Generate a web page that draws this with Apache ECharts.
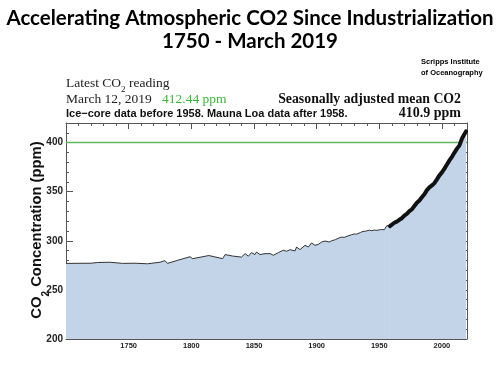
<!DOCTYPE html>
<html>
<head>
<meta charset="utf-8">
<script src="https://cdn.jsdelivr.net/npm/echarts@6/dist/echarts.min.js"></script>
<style>html,body{margin:0;padding:0;background:#fff}#c{width:500px;height:375px}</style>
</head>
<body>
<div id="c"></div>
<script>
// Ice-core record (years, ppm)
var iceYears = [1700,1720,1725,1735,1745,1755,1765,1775,1779,1781,1790,1799,1801,1814,1825,1827,1833,1840,1843,1845.5,1848,1850.8,1852,1854.8,1858,1862.8,1865.5,1869.5,1873.4,1876,1878.8,1882.8,1884,1886.8,1890.7,1893.4,1896,1898.7,1901.4,1904,1906.7,1910,1912,1915,1918,1920,1922,1925,1928,1930,1932,1935,1937,1939,1940,1942,1944,1946,1948,1950,1952,1954,1955,1956,1957,1958.5];
var iceCO2   = [277,277.2,277.9,278.2,277.0,277.2,276.6,278.2,279.8,277.0,280.5,283.8,281.8,285.0,281.8,286.0,284.5,283.4,287.0,284.3,288.0,286.0,288.6,286.0,286.8,287.0,285.3,288.0,290.4,289.3,291.0,289.7,293.7,291.0,295.4,293.7,297.8,295.4,296.4,298.8,299.8,298.8,300.0,301.2,303.0,303.8,303.5,305.0,306.2,307.0,306.8,308.5,309.6,309.8,311.6,310.8,310.3,311.0,310.6,311.2,311.5,311.3,312.0,315.5,313.5,315.0];
// Mauna Loa record (years, ppm)
var mloYears = [1958.5,1960,1962,1964,1966,1968,1970,1972,1974,1976,1978,1980,1982,1984,1986,1988,1990,1992,1994,1996,1998,2000,2002,2004,2006,2008,2010,2012,2014,2016,2018,2019.2];
var mloCO2   = [315.0,316.9,318.4,319.6,321.4,323.0,325.7,327.5,330.2,332.0,335.4,338.8,341.1,344.4,347.4,351.6,354.4,356.4,358.8,362.6,366.7,369.7,373.5,377.7,381.9,385.6,389.9,393.9,397.2,404.2,408.7,411.5];
// Axis settings
var xMin = 1700, xMax = 2020, xMajor = 50, xMinor = 10;
var yMin = 200, yMax = 420, yMajor = 50, yMinor = 10;
var refLine = 400;

function zip(a, b) { return a.map(function (v, i) { return [v, b[i]]; }); }

var axisColor = '#555';
function mkX(pos, interval, len, labels, line) {
  return {
    type: 'value', min: xMin, max: xMax, interval: interval, position: pos,
    axisLine: { show: line, onZero: false, lineStyle: { color: axisColor, width: 1 } },
    axisTick: { show: true, inside: true, length: len, lineStyle: { color: axisColor } },
    axisLabel: { show: labels, margin: 3, color: '#222', fontSize: 7.5, fontWeight: 'bold',
      fontFamily: 'Liberation Sans', showMinLabel: false, showMaxLabel: false,
      formatter: function (v) { return v % 50 === 0 ? String(v) : ''; } },
    splitLine: { show: false }
  };
}
function mkY(pos, interval, len, labels, line) {
  return {
    type: 'value', min: yMin, max: yMax, interval: interval, position: pos,
    axisLine: { show: line, onZero: false, lineStyle: { color: axisColor, width: 1 } },
    axisTick: { show: true, inside: true, length: len, lineStyle: { color: axisColor } },
    axisLabel: { show: labels, margin: 3, color: '#222', fontSize: 10, fontWeight: 'bold',
      fontFamily: 'Liberation Sans', showMaxLabel: false,
      formatter: function (v) { return v % 50 === 0 ? String(v) : ''; } },
    splitLine: { show: false }
  };
}

function txt(x, y, text, font, fill, align) {
  return { type: 'text', style: { x: x, y: y, text: text, font: font, fill: fill,
    textAlign: align || 'left', textVerticalAlign: 'middle' } };
}

var chart = echarts.init(document.getElementById('c'), null, { renderer: 'canvas' });
var serif = 'Liberation Serif';
chart.setOption({
  backgroundColor: '#fff',
  animation: false,
  grid: { left: 66, top: 123, right: 33, bottom: 36, containLabel: false },
  xAxis: [
    mkX('bottom', xMinor, 3, false, true),
    mkX('bottom', xMajor, 6, true, false),
    mkX('top', xMinor, 3, false, true),
    mkX('top', xMajor, 6, false, false)
  ],
  yAxis: [
    mkY('left', yMinor, 3, false, true),
    mkY('left', yMajor, 7, true, false),
    mkY('right', yMinor, 3, false, true),
    mkY('right', yMajor, 7, false, false)
  ],
  series: [
    {
      type: 'line', data: zip(iceYears, iceCO2), symbol: 'none', z: 3,
      lineStyle: { color: '#333', width: 1 },
      areaStyle: { color: '#c3d4e9', opacity: 1, origin: 'start' },
      markLine: { silent: true, symbol: 'none', label: { show: false }, z: 2,
        lineStyle: { color: '#5cb860', width: 1.3, type: 'solid' },
        data: [{ yAxis: refLine }] }
    },
    {
      type: 'line', data: zip(mloYears, mloCO2), symbol: 'none', z: 4,
      lineStyle: { color: '#111', width: 4, cap: 'round' },
      areaStyle: { color: '#c3d4e9', opacity: 1, origin: 'start' }
    }
  ],
  graphic: [
    txt(250, 18.5, 'Accelerating Atmospheric CO2 Since Industrialization', 'bold 20.5px Lato', '#000', 'center'),
    txt(250, 41.5, '1750 - March 2019', 'bold 20.5px Lato', '#000', 'center'),
    txt(421, 61.5, 'Scripps Institute', 'bold 7.5px "Liberation Sans"', '#000'),
    txt(421, 72.5, 'of Oceanography', 'bold 7.5px "Liberation Sans"', '#000'),
    { type: 'text', style: { x: 66, y: 76, text: '{a|Latest CO}{s|2}{a| reading}',
      rich: { a: { fontSize: 13.5, fontFamily: serif, fill: '#222', lineHeight: 14 },
              s: { fontSize: 9, fontFamily: serif, fill: '#222', verticalAlign: 'bottom', lineHeight: 14, padding: [0, 0, -4, 0] } },
      textVerticalAlign: 'top' } },
    txt(66, 99, 'March 12, 2019', '13.5px "Liberation Serif"', '#222'),
    txt(162, 99, '412.44 ppm', '13.5px "Liberation Serif"', '#3cb43c'),
    txt(461, 99, 'Seasonally adjusted mean CO2', 'bold 13.8px "Liberation Serif"', '#111', 'right'),
    txt(66, 114, 'Ice\u2212core data before 1958. Mauna Loa data after 1958.', 'bold 11px "Liberation Sans"', '#111'),
    txt(461, 113.5, '410.9 ppm', 'bold 14px "Liberation Serif"', '#111', 'right'),
    { type: 'text', rotation: Math.PI / 2, x: 37, y: 230,
      style: { x: 0, y: 0, text: '{a|CO}{s|2}{a| Concentration (ppm)}',
        textAlign: 'center', textVerticalAlign: 'middle',
        rich: { a: { fontSize: 14.8, fontWeight: 'bold', fontFamily: 'Liberation Sans', fill: '#111', lineHeight: 18 },
                s: { fontSize: 10, fontWeight: 'bold', fontFamily: 'Liberation Sans', fill: '#111', verticalAlign: 'bottom', lineHeight: 18, padding: [0, 0, -5, 0] } } } }
  ]
});
</script>
</body>
</html>
